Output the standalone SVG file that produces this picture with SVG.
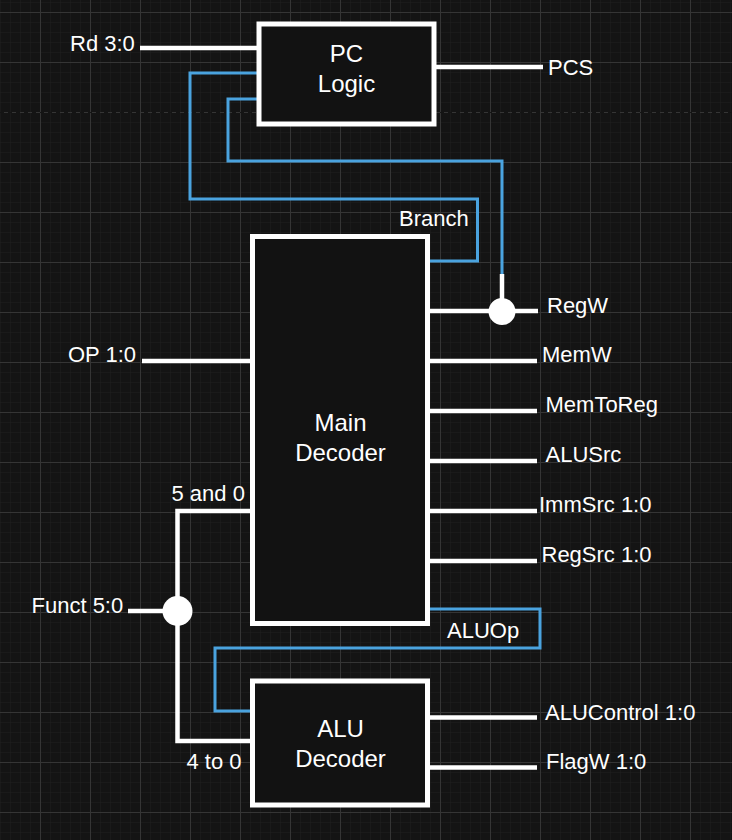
<svg xmlns="http://www.w3.org/2000/svg" width="732" height="840" viewBox="0 0 732 840">
<style>
.bg{fill:#141414}
.blk{fill:#121212;stroke:#ffffff;stroke-width:5}
.w{fill:none;stroke:#ffffff;stroke-width:4.5}
.b{fill:none;stroke:#4aa3df;stroke-width:3}
.dot{fill:#ffffff}
text{font-family:"Liberation Sans",Arial,sans-serif;fill:#ffffff}
.lbl{font-size:22px}
.ttl{font-size:24px;text-anchor:middle}
</style>
<defs>
<pattern id="minor" patternUnits="userSpaceOnUse" x="0" y="2" width="10" height="10">
<path d="M0 0H10M0 0V10" fill="none" stroke="#202020" stroke-width="1"/>
</pattern>
<pattern id="major" patternUnits="userSpaceOnUse" x="40" y="12" width="50" height="50">
<path d="M0 0.5H50M0.5 0V50" fill="none" stroke="#353535" stroke-width="1"/>
</pattern>
</defs>
<g id="grid">
<rect class="bg" x="0" y="0" width="732" height="840"/>
<rect x="0" y="0" width="732" height="840" fill="url(#minor)"/>
<rect x="0" y="0" width="732" height="840" fill="url(#major)"/>
<path d="M0 112.5H732" stroke="#141414" stroke-width="1.2" stroke-dasharray="4 4"/>
</g>
<g id="connectors">
<path class="w" d="M140 48H258"/>
<path class="w" d="M434 67H543"/>
<path class="b" d="M258 73H190V199H477.5V261H430"/>
<path class="b" d="M258 99H228V161H502V275"/>
<path class="w" d="M502 274V311"/>
<path class="w" d="M428 311H538"/>
<circle class="dot" cx="502" cy="311.5" r="13.5"/>
<path class="w" d="M428 361H537"/>
<path class="w" d="M428 411H537"/>
<path class="w" d="M428 461H537"/>
<path class="w" d="M428 511H537"/>
<path class="w" d="M428 561H537"/>
<path class="w" d="M142 361H252"/>
<path class="b" d="M428 609H540V648H215V711H253"/>
<path class="w" d="M252 511H177.5V741H252"/>
<path class="w" d="M128 611H177.5"/>
<circle class="dot" cx="177.5" cy="611" r="15"/>
<path class="w" d="M428 717.5H537"/>
<path class="w" d="M428 767.5H537"/>
</g>
<g id="pc-logic">
<rect class="blk" x="259" y="24" width="175" height="100"/>
<text class="ttl" x="346.5" y="62">PC</text>
<text class="ttl" x="346.5" y="92">Logic</text>
</g>
<g id="main-decoder">
<rect class="blk" x="252.5" y="236.5" width="175" height="387"/>
<text class="ttl" x="340.5" y="431">Main</text>
<text class="ttl" x="340.5" y="461">Decoder</text>
</g>
<g id="alu-decoder">
<rect class="blk" x="252.5" y="681" width="175" height="124"/>
<text class="ttl" x="340.5" y="737">ALU</text>
<text class="ttl" x="340.5" y="767">Decoder</text>
</g>
<g id="labels">
<text class="lbl" x="70" y="51">Rd 3:0</text>
<text class="lbl" x="548" y="75">PCS</text>
<text class="lbl" x="399" y="226">Branch</text>
<text class="lbl" x="547" y="313">RegW</text>
<text class="lbl" x="68" y="362">OP 1:0</text>
<text class="lbl" x="542" y="362">MemW</text>
<text class="lbl" x="545.5" y="412">MemToReg</text>
<text class="lbl" x="545.5" y="462">ALUSrc</text>
<text class="lbl" x="539" y="512">ImmSrc 1:0</text>
<text class="lbl" x="541.5" y="562">RegSrc 1:0</text>
<text class="lbl" x="171.5" y="501">5 and 0</text>
<text class="lbl" x="31.5" y="613">Funct 5:0</text>
<text class="lbl" x="447" y="638">ALUOp</text>
<text class="lbl" x="545" y="720">ALUControl 1:0</text>
<text class="lbl" x="546" y="769">FlagW 1:0</text>
<text class="lbl" x="186.5" y="769">4 to 0</text>
</g>
</svg>
